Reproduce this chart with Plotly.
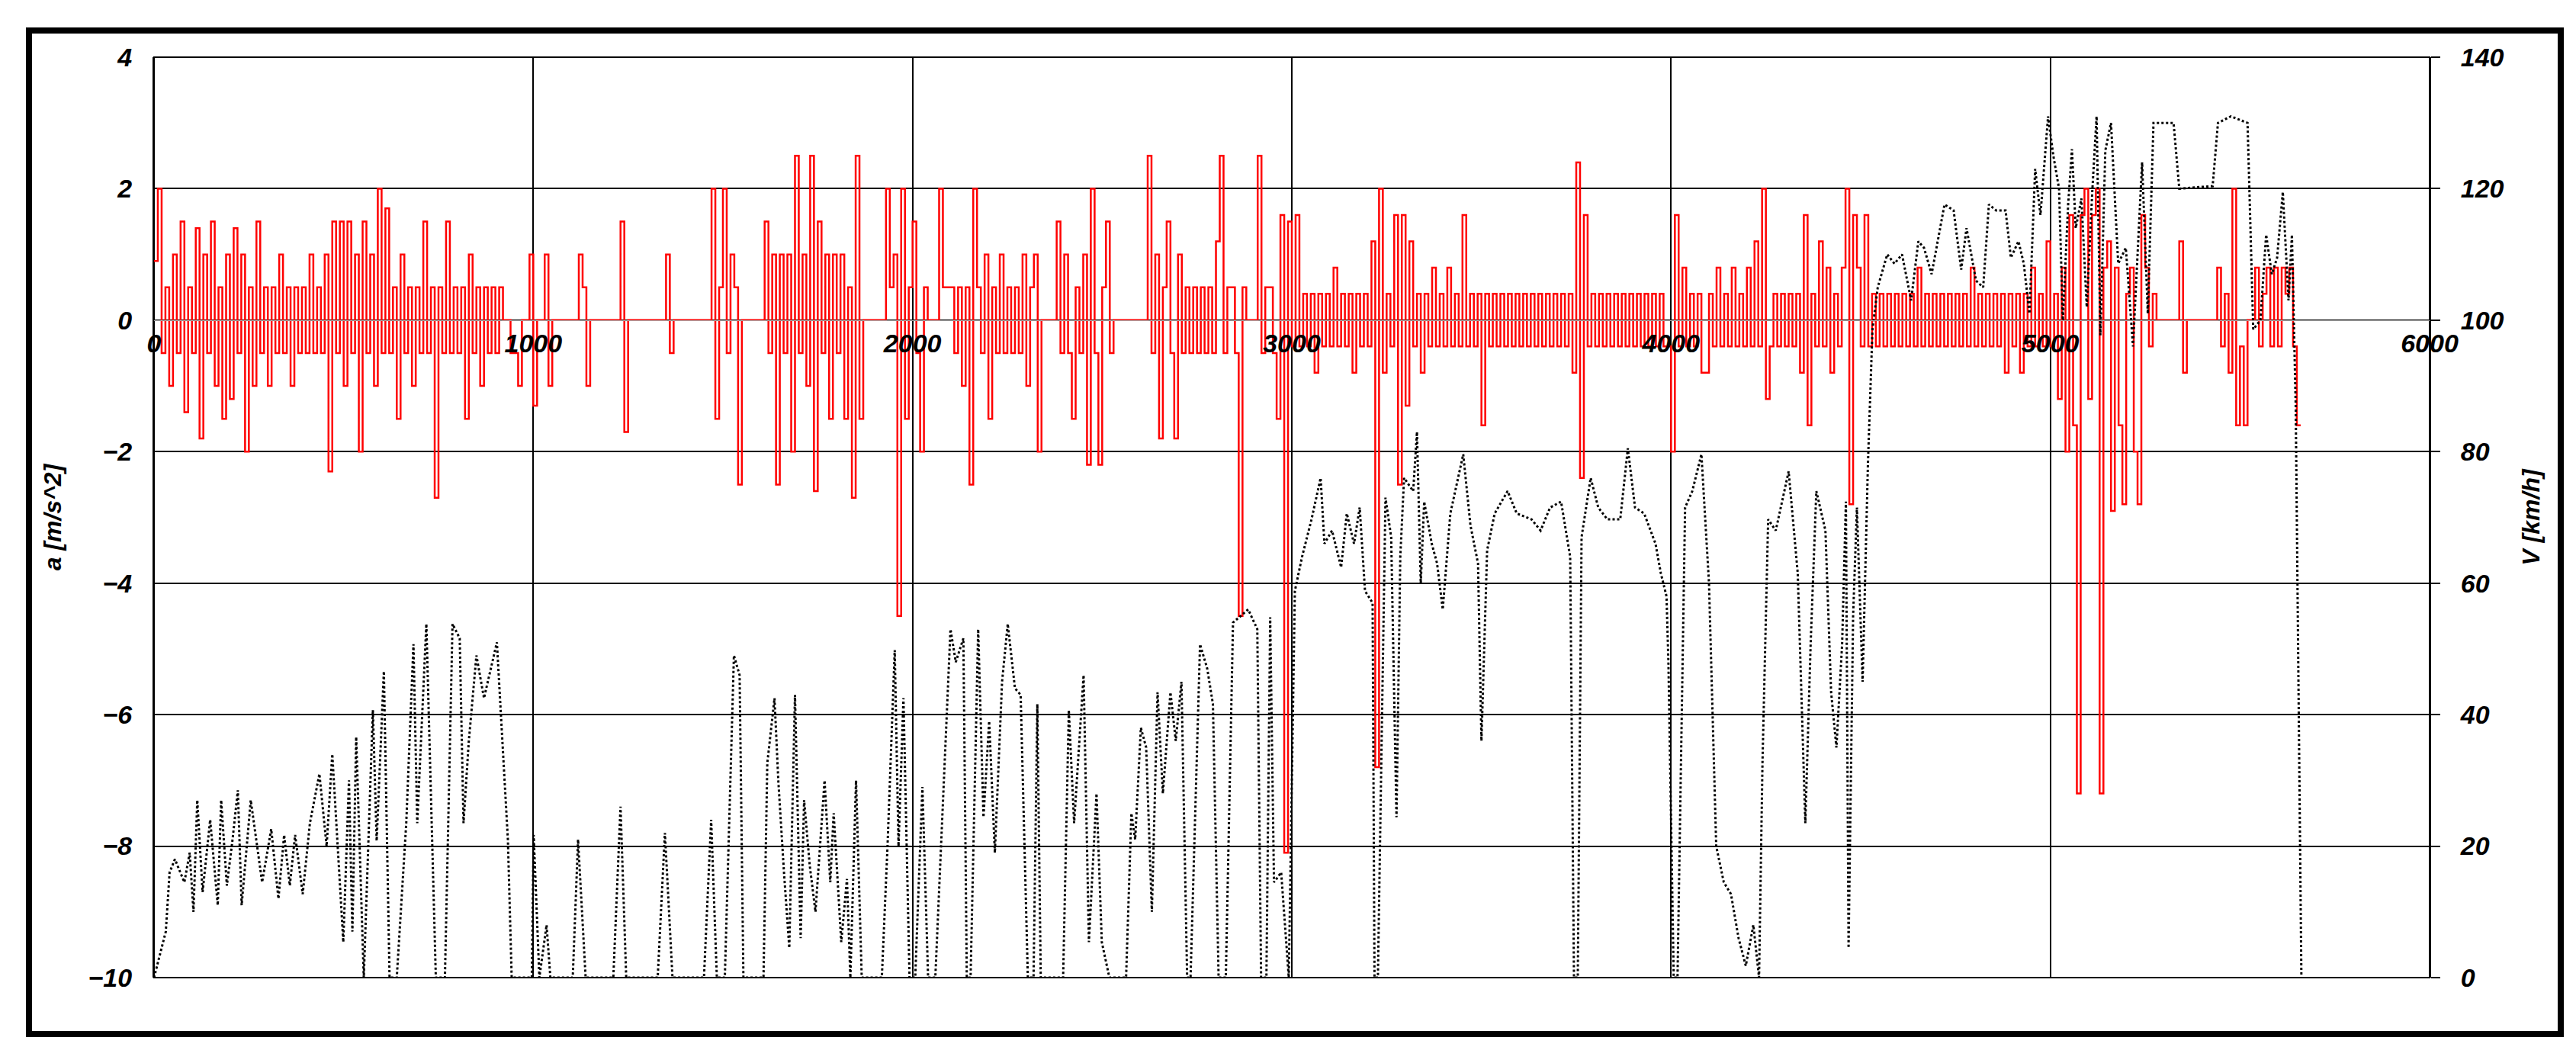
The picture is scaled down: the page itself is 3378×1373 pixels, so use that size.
import plotly.graph_objects as go

# speed trace (time [s], V [km/h])
speed_t = [0, 31, 41, 55, 80, 94, 104, 114, 128, 148, 168, 177, 192, 207, 221, 231, 255, 285, 309, 328,
           343, 358, 372, 392, 411, 436, 455, 470, 499, 514, 523, 533, 553, 577, 587, 606, 621, 640, 665, 684,
           694, 718, 743, 767, 787, 806, 816, 830, 850, 870, 904, 933, 943, 996, 1001, 1016, 1035, 1045, 1104, 1118,
           1138, 1211, 1230, 1245, 1328, 1347, 1367, 1450, 1469, 1484, 1505, 1529, 1544, 1554, 1607, 1617, 1636, 1646, 1661, 1675,
           1690, 1705, 1714, 1729, 1744, 1768, 1783, 1792, 1812, 1827, 1836, 1851, 1866, 1919, 1934, 1953, 1963, 1976, 1992, 2007,
           2026, 2041, 2060, 2100, 2114, 2134, 2143, 2153, 2173, 2187, 2202, 2217, 2236, 2251, 2270, 2285, 2304, 2319, 2329, 2338,
           2397, 2412, 2426, 2451, 2465, 2485, 2499, 2519, 2563, 2577, 2587, 2602, 2616, 2631, 2646, 2660, 2680, 2694, 2709, 2724,
           2733, 2758, 2777, 2792, 2807, 2826, 2845, 2885, 2909, 2919, 2933, 2943, 2953, 2972, 2992, 3008, 3027, 3052, 3076, 3086,
           3106, 3130, 3145, 3164, 3179, 3193, 3213, 3218, 3227, 3247, 3262, 3276, 3286, 3296, 3320, 3330, 3340, 3349, 3369, 3383,
           3398, 3418, 3452, 3471, 3491, 3500, 3515, 3535, 3569, 3593, 3632, 3656, 3681, 3710, 3734, 3744, 3754, 3764, 3788, 3808,
           3832, 3866, 3886, 3905, 3929, 3959, 3973, 3988, 3993, 4007, 4017, 4037, 4056, 4080, 4100, 4119, 4139, 4158, 4178, 4197,
           4217, 4232, 4241, 4256, 4276, 4310, 4334, 4344, 4354, 4368, 4383, 4407, 4422, 4436, 4451, 4461, 4468, 4480, 4490, 4505,
           4519, 4531, 4545, 4570, 4589, 4609, 4633, 4652, 4667, 4687, 4721, 4745, 4765, 4779, 4804, 4823, 4838, 4857, 4882, 4896,
           4916, 4930, 4945, 4960, 4974, 4994, 5008, 5023, 5033, 5047, 5057, 5067, 5082, 5096, 5111, 5122, 5132, 5145, 5160, 5179,
           5199, 5218, 5242, 5257, 5272, 5325, 5340, 5428, 5442, 5476, 5520, 5535, 5554, 5569, 5584, 5598, 5613, 5628, 5637, 5647,
           5662]
speed_v = [0, 7, 16, 18, 14.5, 19, 10, 27, 13, 24, 11, 27, 14, 21, 28.5, 11, 27, 14.5, 22.6, 12,
           21.7, 14, 21.7, 12.7, 23.5, 31, 20, 34, 5.4, 30, 7, 36.6, 0, 40.7, 20.8, 46.6, 0, 0, 23.5, 50.7,
           23.5, 53.8, 0, 0, 53.8, 51.6, 23.5, 36, 49, 42.5, 51, 21, 0, 0, 21.7, 0, 8, 0, 0, 21,
           0, 0, 26, 0, 0, 22, 0, 0, 24, 0, 0, 49, 46, 0, 0, 32.6, 42.5, 30, 16, 4.5,
           43, 6, 27, 17, 10, 30, 14.5, 25, 5.4, 15, 0, 30, 0, 0, 20, 49.8, 20, 42.5, 0, 0,
           29, 0, 0, 53, 48, 51.6, 0, 0, 53, 24.4, 39, 19, 45, 53.8, 44, 43, 0, 0, 41.6, 0,
           0, 40.7, 23.5, 46, 5.4, 28, 5.4, 0, 0, 25, 21, 38, 35, 10, 43.4, 28, 43.4, 36, 45, 0,
           0, 50.7, 47, 41.6, 0, 0, 54, 56, 53, 0, 0, 54.8, 14.5, 16, 0, 58.8, 64, 69.7, 76, 66,
           68, 62.4, 70.6, 66, 71.5, 58.8, 57, 0, 0, 73, 67, 24.4, 64, 76, 74, 83, 60, 72.4, 66, 63,
           56, 70.6, 79.6, 68.8, 63, 36, 65, 70.6, 74, 70.6, 69.7, 68, 71.5, 72.4, 64, 0, 0, 67, 76, 71.5,
           69.7, 69.7, 80.5, 71.5, 70.6, 66, 61.5, 58, 48, 0, 0, 71.5, 74, 79.6, 60, 20, 14.5, 12.7, 6, 1.8,
           8, 0, 32.6, 69.7, 68, 77, 61.5, 43.4, 23.5, 50.7, 74, 68, 43.4, 35, 50.7, 72.4, 4.5, 55, 71.5, 45,
           78, 98.6, 105, 110, 108.6, 110, 103, 112, 111, 107, 117.6, 116.7, 107.7, 114, 106, 105, 117.6, 116.7, 116.7, 109.5,
           112, 108.6, 101, 123, 116, 131, 125, 120, 100, 117.6, 126, 114, 118.5, 102, 120, 131, 97.7, 125.8, 130, 108.6,
           111, 96, 124, 101, 130, 130, 120, 120.4, 130, 131, 130, 98.6, 100, 113, 107, 109.5, 119.5, 103, 113, 87,
           0]

# acceleration [m/s^2], one value every 10 s, one row per 500 s block
accel_rows = {
    0: [0.9, 2.0, -0.5, 0.5, -1.0, 1.0, -0.5, 1.5, -1.4, 0.5, -0.5, 1.4, -1.8, 1.0, -0.5, 1.5, -1.0, 0.5, -1.5, 1.0,
        -1.2, 1.4, -0.5, 1.0, -2.0, 0.5, -1.0, 1.5, -0.5, 0.5, -1.0, 0.5, -0.5, 1.0, -0.5, 0.5, -1.0, 0.5, -0.5, 0.5,
        -0.5, 1.0, -0.5, 0.5, -0.5, 1.0, -2.3, 1.5, -0.5, 1.5],
    500: [-1.0, 1.5, -0.5, 1.0, -2.0, 1.5, -0.5, 1.0, -1.0, 2.0, -0.5, 1.7, -0.5, 0.5, -1.5, 1.0, -0.5, 0.5, -1.0, 0.5,
          -0.5, 1.5, -0.5, 0.5, -2.7, 0.5, -0.5, 1.5, -0.5, 0.5, -0.5, 0.5, -1.5, 1.0, -0.5, 0.5, -1.0, 0.5, -0.5, 0.5,
          -0.5, 0.5, 0, 0, -0.5, -0.5, -1.0, 0, 0, 1.0],
    1000: [-1.3, 0, 0, 1.0, -1.0, 0, 0, 0, 0, 0, 0, 0, 1.0, 0.5, -1.0, 0, 0, 0, 0, 0,
           0, 0, 0, 1.5, -1.7, 0, 0, 0, 0, 0, 0, 0, 0, 0, 0, 1.0, -0.5, 0, 0, 0,
           0, 0, 0, 0, 0, 0, 0, 2.0, -1.5, 0.5],
    1500: [2.0, -0.5, 1.0, 0.5, -2.5, 0, 0, 0, 0, 0, 0, 1.5, -0.5, 1.0, -2.5, 1.0, -0.5, 1.0, -2.0, 2.5,
           -0.5, 1.0, -1.0, 2.5, -2.6, 1.5, -0.5, 1.0, -1.5, 1.0, -0.5, 1.0, -1.5, 0.5, -2.7, 2.5, -1.5, 0, 0, 0,
           0, 0, 0, 2.0, 0.5, 1.0, -4.5, 2.0, -1.5, 0.5],
    2000: [1.5, -0.5, -2.0, 0.5, 0, 0, 0, 2.0, 0.5, 0.5, 0.5, -0.5, 0.5, -1.0, 0.5, -2.5, 2.0, 0.5, -0.5, 1.0,
           -1.5, 0.5, -0.5, 1.0, -0.5, 0.5, -0.5, 0.5, -0.5, 1.0, -1.0, 0.5, 1.0, -2.0, 0, 0, 0, 0, 1.5, -0.5,
           1.0, -0.5, -1.5, 0.5, -0.5, 1.0, -2.2, 2.0, -0.5, -2.2],
    2500: [0.5, 1.5, -0.5, 0, 0, 0, 0, 0, 0, 0, 0, 0, 2.5, -0.5, 1.0, -1.8, 0.5, 1.5, -0.5, -1.8,
           1.0, -0.5, 0.5, -0.5, 0.5, -0.5, 0.5, -0.5, 0.5, -0.5, 1.2, 2.5, -0.5, 0.5, 0.5, -0.5, -4.5, 0.5, 0, 0,
           0, 2.5, -0.5, 0.5, 0.5, -0.5, -1.5, 1.6, -8.1, 1.5],
    3000: [-0.4, 1.6, -0.4, 0.4, -0.4, 0.4, -0.8, 0.4, -0.4, 0.4, -0.4, 0.8, -0.4, 0.4, -0.4, 0.4, -0.8, 0.4, -0.4, 0.4,
           -0.4, 1.2, -6.8, 2.0, -0.8, 0.4, -0.4, 1.6, -2.5, 1.6, -1.3, 1.2, -0.4, 0.4, -0.8, 0.4, -0.4, 0.8, -0.4, 0.4,
           -0.4, 0.8, -0.4, 0.4, -0.4, 1.6, -0.4, 0.4, -0.4, 0.4],
    3500: [-1.6, 0.4, -0.4, 0.4, -0.4, 0.4, -0.4, 0.4, -0.4, 0.4, -0.4, 0.4, -0.4, 0.4, -0.4, 0.4, -0.4, 0.4, -0.4, 0.4,
           -0.4, 0.4, -0.4, 0.4, -0.8, 2.4, -2.4, 1.6, -0.4, 0.4, -0.4, 0.4, -0.4, 0.4, -0.4, 0.4, -0.4, 0.4, -0.4, 0.4,
           -0.4, 0.4, -0.4, 0.4, -0.4, 0.4, -0.4, 0.4, -0.4, -0.4],
    4000: [-2.0, 1.6, -0.4, 0.8, -0.4, 0.4, -0.4, 0.4, -0.8, -0.8, 0.4, -0.4, 0.8, -0.4, 0.4, -0.4, 0.8, -0.4, 0.4, -0.4,
           0.8, -0.4, 1.2, -0.4, 2.0, -1.2, -0.4, 0.4, -0.4, 0.4, -0.4, 0.4, -0.4, 0.4, -0.8, 1.6, -1.6, 0.4, -0.4, 1.2,
           -0.4, 0.8, -0.8, 0.4, -0.4, 0.8, 2.0, -2.8, 1.6, 0.8],
    4500: [-0.4, 1.6, -0.4, 0.4, -0.4, 0.4, -0.4, 0.4, -0.4, 0.4, -0.4, 0.4, -0.4, 0.4, -0.4, 0.8, -0.4, 0.4, -0.4, 0.4,
           -0.4, 0.4, -0.4, 0.4, -0.4, 0.4, -0.4, 0.4, -0.4, 0.8, -0.4, 0.4, -0.4, 0.4, -0.4, 0.4, -0.4, 0.4, -0.8, 0.4,
           -0.4, 0.4, -0.8, 0.4, -0.4, 0.8, -0.4, 0.4, -0.4, 1.2],
    5000: [-0.4, 0.4, -1.2, 0.8, -2.0, 1.6, -1.6, -7.2, 1.6, 2.0, -1.2, 1.6, 2.0, -7.2, 0.8, 1.2, -2.9, 0.8, -1.6, -2.8,
           0.4, 0.8, -2.0, -2.8, 1.6, 0.8, -0.4, 0.4, 0, 0, 0, 0, 0, 0, 1.2, -0.8, 0, 0, 0, 0,
           0, 0, 0, 0, 0.8, -0.4, 0.4, -0.8, 2.0, -1.6],
    5500: [-0.4, -1.6, 0, 0, 0.8, -0.4, 0.4, 0.8, -0.4, 0.8, -0.4, 0.8, 0.4, 0.8, -0.4, -1.6, -1.6],
}

accel_t, accel_a = [], []
for start, vals in accel_rows.items():
    for i, a in enumerate(vals):
        accel_t.append(start + 10 * i)
        accel_a.append(a)

x_ticks = [0, 1000, 2000, 3000, 4000, 5000, 6000]
a_ticks = [-10, -8, -6, -4, -2, 0, 2, 4]
v_ticks = [0, 20, 40, 60, 80, 100, 120, 140]

FONT = "Liberation Sans"
tick_font = dict(family=FONT, size=34, color="black", weight="bold", style="italic")
title_font = dict(family=FONT, size=32, color="black", weight="bold", style="italic")

fig = go.Figure()

# both traces use x2 (the copy of the time axis whose labels sit on the a=0 line)
fig.add_trace(go.Scatter(x=accel_t, y=accel_a, mode="lines", line=dict(color="#ff0000", width=2.5, shape="hv"),
                         xaxis="x2", yaxis="y", showlegend=False))
fig.add_trace(go.Scatter(x=speed_t, y=speed_v, mode="lines", line=dict(color="black", width=3, dash="dot"),
                         xaxis="x2", yaxis="y2", showlegend=False))

zero_pos = 10 / 14

fig.update_layout(
    width=3378, height=1373,
    margin=dict(l=194, r=200, t=67, b=99),
    paper_bgcolor="white", plot_bgcolor="white",
    xaxis=dict(range=[0, 6000], tickvals=x_ticks, showticklabels=False, showgrid=False,
               showline=False, zeroline=False, ticks="",
               title=dict(text="Time [s]", font=title_font, standoff=10)),
    xaxis2=dict(range=[0, 6000], overlaying="x", anchor="free", position=zero_pos, side="bottom",
                tickvals=x_ticks, ticktext=[str(t) for t in x_ticks], tickfont=tick_font,
                showgrid=True, gridcolor="black", gridwidth=2,
                showline=True, linecolor="#aaaaaa", linewidth=1, zeroline=False, ticks=""),
    yaxis=dict(range=[-10, 4], tickvals=a_ticks, tickfont=tick_font, showgrid=True,
               gridcolor="black", gridwidth=2, showline=True, linecolor="black", linewidth=2,
               zeroline=False, ticks="", ticklabelstandoff=20,
               title=dict(text="a [m/s^2]", font=title_font, standoff=25)),
    yaxis2=dict(range=[0, 140], tickvals=v_ticks, tickfont=tick_font, overlaying="y", side="right",
                showgrid=False, showline=True, linecolor="black", linewidth=2, zeroline=False,
                ticks="outside", ticklen=12, tickcolor="black", tickwidth=2, ticklabelstandoff=20,
                title=dict(text="V [km/h]", font=title_font, standoff=25)),
    shapes=[dict(type="rect", xref="paper", yref="paper",
                 x0=(30 - 194) / 2984, x1=(3350 - 194) / 2984,
                 y0=(1274 - 1348) / 1207, y1=(1274 - 32) / 1207,
                 line=dict(color="black", width=8), layer="below"),
            dict(type="rect", xref="paper", yref="paper", x0=0, x1=1, y0=0, y1=1,
                 line=dict(color="black", width=2), layer="below")],
)

fig.write_html("out.html")
